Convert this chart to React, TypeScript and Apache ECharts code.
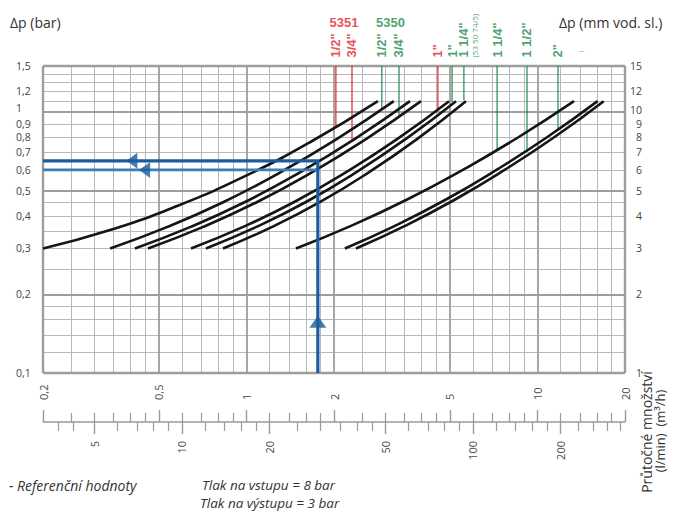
import React, { useEffect, useRef } from "react";
import * as echarts from "echarts";

// ---------------- data ----------------
// flow scale (m3/h) ticks
const flowMajorTicks = [0.2, 0.5, 1, 2, 5, 10, 20];
const flowMinorTicks = [0.25, 0.3, 0.35, 0.4, 0.45, 0.6, 0.7, 0.8, 0.9, 1.2, 1.4, 1.6, 1.8, 2.5, 3, 3.5, 4, 4.5, 6, 7, 8, 9, 12, 14, 16, 18];
// flow scale (l/min) ticks
const lminMajorTicks = [5, 10, 20, 50, 100, 200];
const lminMinorTicks = [3.75, 4.25, 6, 7, 8, 9, 12, 14, 16, 18, 25, 30, 35, 40, 45, 60, 70, 80, 90, 120, 140, 160, 180, 230, 260, 290, 320];
// pressure-drop ticks (bar)
const dpLabels = [0.1, 0.2, 0.3, 0.4, 0.5, 0.6, 0.7, 0.8, 0.9, 1, 1.2, 1.5];
// grid lines
const flowGridMajor = [0.5, 1, 2, 5, 10];
const flowGridMinor = [0.25, 0.3, 0.35, 0.4, 0.45, 0.6, 0.7, 0.8, 0.9, 1.2, 1.4, 1.6, 1.8, 2.5, 3, 3.5, 4, 4.5, 6, 7, 8, 9, 12, 14, 16, 18];
const flowBorders = [0.2, 20];
const dpGridMajor = [0.2, 0.5, 1];
const dpGridMinor = [0.12, 0.14, 0.16, 0.18, 0.25, 0.3, 0.35, 0.4, 0.45, 0.6, 0.7, 0.8, 0.9, 1.1, 1.2, 1.3, 1.4];
const dpBorders = [0.1, 1.5];

// pressure drop curves: [flow m3/h, dp bar]
const curve1 = [[0.2, 0.3], [0.34, 0.353], [0.577, 0.436], [0.981, 0.565], [1.666, 0.769], [2.83, 1.1]];
const curve2 = [[0.34, 0.3], [0.533, 0.362], [0.835, 0.452], [1.308, 0.587], [2.049, 0.789], [3.21, 1.1]];
const curve3 = [[0.414, 0.3], [0.64, 0.362], [0.989, 0.452], [1.528, 0.587], [2.361, 0.789], [3.65, 1.1]];
const curve4 = [[0.459, 0.3], [0.707, 0.362], [1.089, 0.452], [1.678, 0.587], [2.584, 0.789], [3.98, 1.1]];
const curve5 = [[0.645, 0.3], [0.97, 0.362], [1.46, 0.452], [2.196, 0.587], [3.304, 0.789], [4.97, 1.1]];
const curve6 = [[0.726, 0.3], [1.078, 0.362], [1.602, 0.452], [2.381, 0.587], [3.535, 0.789], [5.25, 1.1]];
const curve7 = [[0.831, 0.3], [1.221, 0.362], [1.793, 0.452], [2.633, 0.587], [3.867, 0.789], [5.68, 1.1]];
const curve8 = [[1.48, 0.3], [2.298, 0.367], [3.568, 0.462], [5.541, 0.6], [8.602, 0.8], [13.36, 1.1]];
const curve9 = [[2.18, 0.3], [3.253, 0.367], [4.851, 0.462], [7.235, 0.6], [10.79, 0.8], [16.1, 1.1]];
const curve10 = [[2.38, 0.3], [3.522, 0.367], [5.213, 0.462], [7.716, 0.6], [11.42, 0.8], [16.9, 1.1]];
const curves = [curve1, curve2, curve3, curve4, curve5, curve6, curve7, curve8, curve9, curve10];

// valve size limits (flow, dp where the marker meets its curve)
const markers5351 = [
  { size: '1/2"', flow: 2.03, dpEnd: 0.876 },
  { size: '3/4"', flow: 2.306, dpEnd: 0.781 },
  { size: '1"', flow: 4.55, dpEnd: 1.01 },
];
const markers5350 = [
  { size: '1/2"', flow: 2.92, dpEnd: 1.035 },
  { size: '3/4"', flow: 3.345, dpEnd: 0.955 },
  { size: '1"', flow: 5.09, dpEnd: 1.093 },
  { size: '1 1/4"', flow: 5.59, dpEnd: 1.11 },
  { size: '1 1/4"', flow: 7.27, dpEnd: 0.716 },
  { size: '1 1/2"', flow: 9.21, dpEnd: 0.703 },
  { size: '2"', flow: 11.77, dpEnd: 0.855 },
];
const familyTitles = [
  { name: "5351", flow: 2.165 },
  { name: "5350", flow: 3.125 },
];
const noteLabel = { text: "(53 50 74/5)", flow: 6.1 };

// example reading
const exampleFlow = 1.76;
const exampleDp = [0.65, 0.6];
const exampleArrowFlows = [0.404, 0.447];
const exampleArrowUpDp = 0.157;

// ---------------- styles ----------------
const FONT = "'Open Sans', 'Liberation Sans', sans-serif";
const BOLD_FONT = "'Liberation Sans Narrow', 'Liberation Sans', sans-serif";
const RED = "#e3232d";
const GREEN = "#1d8a4d";
const BLUE = "#1b5c9e";
const BLUE_LIGHT = "#3f7bb8";
const GRID_MINOR = "#b9b9b9";
const GRID_MAJOR = "#9d9d9d";

const comma = (v: number) => String(+Number(v).toFixed(3)).replace(".", ",");

function buildOption() {
  const gridLines: any[] = [];
  flowGridMinor.forEach((v) => gridLines.push({ xAxis: v, lineStyle: { color: GRID_MINOR, width: 1, type: "solid" } }));
  dpGridMinor.forEach((v) => gridLines.push({ yAxis: v, lineStyle: { color: GRID_MINOR, width: 1, type: "solid" } }));
  flowGridMajor.forEach((v) => gridLines.push({ xAxis: v, lineStyle: { color: GRID_MAJOR, width: 1.8, type: "solid" } }));
  dpGridMajor.forEach((v) => gridLines.push({ yAxis: v, lineStyle: { color: GRID_MAJOR, width: 1.8, type: "solid" } }));
  flowBorders.forEach((v) => gridLines.push({ xAxis: v, lineStyle: { color: GRID_MAJOR, width: 2.4, type: "solid" } }));
  dpBorders.forEach((v) => gridLines.push({ yAxis: v, lineStyle: { color: GRID_MAJOR, width: 2.4, type: "solid" } }));

  const series: any[] = [];
  series.push({
    type: "line",
    data: [],
    xAxisIndex: 0,
    yAxisIndex: 0,
    silent: true,
    z: 0,
    markLine: {
      silent: true,
      z: 0,
      symbol: ["none", "none"],
      label: { show: false },
      lineStyle: { type: "solid" },
      animation: false,
      data: gridLines,
    },
  });

  curves.forEach((c) =>
    series.push({
      type: "line",
      data: c,
      showSymbol: false,
      smooth: 0.5,
      silent: true,
      lineStyle: { color: "#151515", width: 2.6 },
      z: 10,
    })
  );

  const markerLine = (m: any, color: string) => ({
    type: "line",
    data: [[m.flow, 1.5], [m.flow, m.dpEnd]],
    showSymbol: false,
    silent: true,
    lineStyle: { color, width: 1.2 },
    z: 8,
  });
  markers5351.forEach((m) => series.push(markerLine(m, RED)));
  markers5350.forEach((m) => series.push(markerLine(m, GREEN)));

  const sizeLabelSeries = (list: any[], color: string) => ({
    type: "scatter",
    data: list.map((m) => ({ value: [m.flow, 1.5], label: { formatter: m.size } })),
    symbolSize: 1,
    itemStyle: { color: "transparent" },
    silent: true,
    clip: false,
    z: 12,
    label: {
      show: true,
      position: "top",
      distance: 8,
      rotate: 90,
      align: "left",
      verticalAlign: "middle",
      color,
      fontWeight: "bold",
      fontSize: 13,
      fontFamily: BOLD_FONT,
    },
  });
  series.push(sizeLabelSeries(markers5351, RED));
  series.push(sizeLabelSeries(markers5350, GREEN));

  series.push({
    type: "scatter",
    data: [{ value: [noteLabel.flow, 1.5], label: { formatter: noteLabel.text } }],
    symbolSize: 1,
    itemStyle: { color: "transparent" },
    silent: true,
    clip: false,
    z: 12,
    label: {
      show: true,
      position: "top",
      distance: 8,
      rotate: 90,
      align: "left",
      verticalAlign: "middle",
      color: GREEN,
      fontSize: 8,
      fontFamily: FONT,
    },
  });

  series.push({
    type: "scatter",
    data: familyTitles.map((f, i) => ({
      value: [f.flow, 1.5],
      label: { formatter: f.name, color: i === 0 ? RED : GREEN },
    })),
    symbolSize: 1,
    itemStyle: { color: "transparent" },
    silent: true,
    clip: false,
    z: 12,
    label: {
      show: true,
      position: "top",
      distance: 37,
      fontWeight: "bold",
      fontSize: 13,
      fontFamily: BOLD_FONT,
    },
  });

  // example reading (blue)
  series.push({
    type: "line",
    data: [[0.2, exampleDp[1]], [exampleFlow, exampleDp[1]]],
    showSymbol: false,
    silent: true,
    lineStyle: { color: BLUE_LIGHT, width: 2.6 },
    z: 14,
  });
  series.push({
    type: "line",
    data: [[0.2, exampleDp[0]], [exampleFlow, exampleDp[0]], [exampleFlow, 0.1]],
    showSymbol: false,
    silent: true,
    lineStyle: { color: BLUE, width: 3.2, join: "miter" },
    z: 15,
  });
  series.push({
    type: "scatter",
    data: exampleArrowFlows.map((f, i) => [f, exampleDp[i]]),
    symbol: "triangle",
    symbolRotate: 90,
    symbolSize: [16, 11],
    itemStyle: { color: BLUE },
    silent: true,
    z: 16,
  });
  series.push({
    type: "scatter",
    data: [[exampleFlow, exampleArrowUpDp]],
    symbol: "triangle",
    symbolSize: [17, 12],
    itemStyle: { color: BLUE },
    silent: true,
    z: 16,
  });

  const axisGrey = "#9a9a9a";
  const xBase = { type: "log", logBase: 10, gridIndex: 0, position: "bottom", splitLine: { show: false } };
  const xAxis = [
    { ...xBase, min: 0.2, max: 20, axisLine: { show: false }, axisTick: { show: false }, axisLabel: { show: false } },
    {
      ...xBase,
      min: 0.2,
      max: 20,
      offset: 49,
      axisLine: { show: true, onZero: false, lineStyle: { color: axisGrey, width: 1.6 } },
      axisTick: { show: true, inside: true, length: 12, customValues: flowMajorTicks, lineStyle: { color: axisGrey, width: 1.4 } },
      axisLabel: {
        show: true,
        inside: true,
        rotate: 90,
        margin: 22,
        customValues: flowMajorTicks,
        formatter: (v: number) => comma(v),
        color: "#4a4a4a",
        fontSize: 11,
        fontFamily: FONT,
      },
    },
    {
      ...xBase,
      min: 0.2,
      max: 20,
      offset: 49,
      axisLine: { show: false },
      axisTick: { show: true, inside: true, length: 9, customValues: flowMinorTicks, lineStyle: { color: axisGrey, width: 1.2 } },
      axisLabel: { show: false },
    },
    {
      ...xBase,
      min: 10 / 3,
      max: 1000 / 3,
      offset: 49,
      axisLine: { show: false },
      axisTick: { show: true, inside: false, length: 12, customValues: lminMajorTicks, lineStyle: { color: axisGrey, width: 1.4 } },
      axisLabel: {
        show: true,
        rotate: 90,
        margin: 19,
        customValues: lminMajorTicks,
        formatter: (v: number) => String(Math.round(v)),
        color: "#4a4a4a",
        fontSize: 11,
        fontFamily: FONT,
      },
    },
    {
      ...xBase,
      min: 10 / 3,
      max: 1000 / 3,
      offset: 49,
      axisLine: { show: false },
      axisTick: { show: true, inside: false, length: 9, customValues: lminMinorTicks, lineStyle: { color: axisGrey, width: 1.2 } },
      axisLabel: { show: false },
    },
  ];

  const yAxis = [
    {
      type: "log",
      logBase: 10,
      min: 0.1,
      max: 1.5,
      position: "left",
      axisLine: { show: false },
      axisTick: { show: false },
      splitLine: { show: false },
      axisLabel: {
        customValues: dpLabels,
        formatter: (v: number) => (Math.abs(v - 1) < 1e-9 ? "{up|1}" : comma(v)),
        rich: { up: { padding: [0, 0, 8, 0], fontSize: 10.5, color: "#444", fontFamily: FONT, lineHeight: 10 } },
        align: "left",
        margin: 27,
        color: "#444",
        fontSize: 10.5,
        lineHeight: 11,
        fontFamily: FONT,
      },
    },
    {
      type: "log",
      logBase: 10,
      min: 0.1,
      max: 1.5,
      position: "right",
      axisLine: { show: false },
      axisTick: { show: false },
      splitLine: { show: false },
      axisLabel: {
        customValues: dpLabels,
        formatter: (v: number) => (Math.abs(v - 1) < 1e-9 ? "{up|10}" : String(Math.round(v * 10))),
        rich: { up: { padding: [0, 0, 4, 0], fontSize: 10.5, color: "#444", fontFamily: FONT, lineHeight: 10 } },
        align: "right",
        margin: 17,
        color: "#444",
        fontSize: 10.5,
        lineHeight: 11,
        fontFamily: FONT,
      },
    },
  ];

  const txt = (text: string, x: number, y: number, extra: any = {}, style: any = {}) => ({
    type: "text",
    x,
    y,
    silent: true,
    ...extra,
    style: { text, fill: "#333", font: `14px ${FONT}`, align: "left", verticalAlign: "middle", ...style },
  });

  const graphic = [
    txt("Δp (bar)", 10, 22),
    txt("Δp (mm vod. sl.)", 559, 22),
    txt("Průtočné množství", 646, 432, { rotation: Math.PI / 2 }, { align: "center", font: `14px ${FONT}` }),
    txt("(l/min)  (m³/h)", 660, 431, { rotation: Math.PI / 2 }, { align: "center", font: `13px ${FONT}` }),
    txt("- Referenční hodnoty", 9, 485, {}, { font: `italic 14px ${FONT}` }),
    txt("Tlak na vstupu = 8 bar", 202, 485, {}, { font: `italic 13.5px ${FONT}` }),
    txt("Tlak na výstupu = 3 bar", 200, 503, {}, { font: `italic 13.5px ${FONT}` }),
    txt("–", 579, 50, {}, { fill: "#bbb", font: `10px ${FONT}` }),
  ];

  return {
    animation: false,
    backgroundColor: "#ffffff",
    textStyle: { fontFamily: FONT },
    grid: { left: 43, top: 66, width: 582, height: 307, containLabel: false },
    xAxis,
    yAxis,
    series,
    graphic,
  };
}

export default function App() {
  const ref = useRef<HTMLDivElement>(null);
  useEffect(() => {
    if (!ref.current) return;
    const chart = echarts.init(ref.current, null, { renderer: "svg" });
    chart.setOption(buildOption() as any);
    return () => chart.dispose();
  }, []);
  return (
    <div
      ref={ref}
      style={{ position: "absolute", left: 0, top: 0, width: 685, height: 518, background: "#fff" }}
    />
  );
}
